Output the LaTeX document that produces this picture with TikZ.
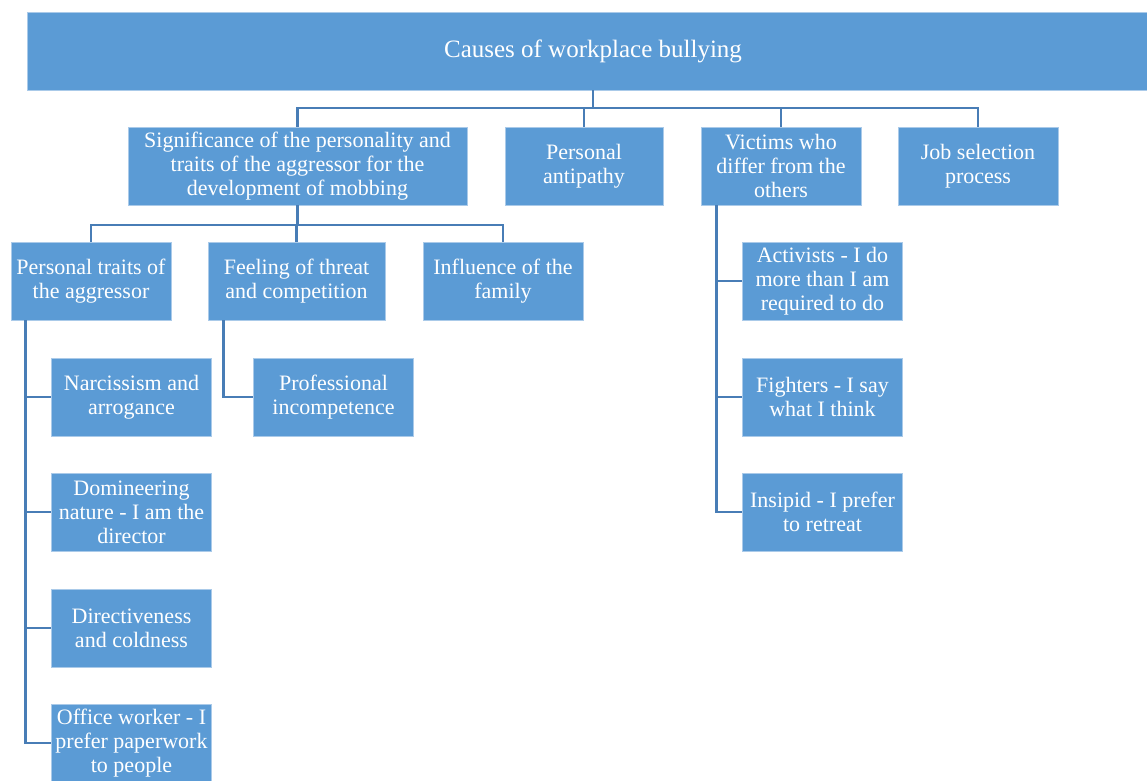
\documentclass[tikz,border=0pt]{standalone}
\usepackage{fontspec}
\setmainfont{Liberation Serif}
\usepackage{tikz}
\definecolor{boxblue}{RGB}{91,155,213}
\definecolor{boxedge}{RGB}{170,202,233}
\definecolor{linkblue}{RGB}{72,125,182}

\begin{document}
\begin{tikzpicture}[x=1pt,y=-1pt,
    box/.style={rectangle,draw=boxedge,line width=0.8pt,fill=boxblue,text=white,align=center,
                inner sep=0pt,minimum width=160pt,minimum height=78pt,font=\fontsize{22}{24}\selectfont},
    link/.style={draw=linkblue,line width=2.9pt}]
                      \useasboundingbox (0,0) rectangle (1147,780);

                      % top level
                      \node (root) at (593,51) [box,minimum width=1132pt,font=\fontsize{25}{28}\selectfont] {Causes of workplace bullying};

                      \node (sig) at (297.5,166) [box,minimum width=339pt] {Significance of the personality and\\traits of the aggressor for the\\development of mobbing};
                      \node (anti) at (584,166) [box,minimum width=158pt] {Personal\\antipathy};
                      \node (vic) at (781,166) [box] {Victims who\\differ from the\\others};
                      \node (job) at (978,166) [box] {Job selection\\process};

                      % aggressor
                      \node (ptr) at (91,281) [box] {Personal traits of\\the aggressor};
                      \node (thr) at (296.5,281) [box,minimum width=177pt] {Feeling of threat\\and competition};
                      \node (fam) at (503,281) [box] {Influence of the\\family};

                      \node (nar) at (131.5,397) [box] {Narcissism and\\arrogance};
                      \node (dom) at (131.5,512) [box] {Domineering\\nature - I am the\\director};
                      \node (dir) at (131.5,628) [box] {Directiveness\\and coldness};
                      \node (off) at (131.5,743) [box] {Office worker - I\\prefer paperwork\\to people};

                      \node (inc) at (333.5,397) [box] {Professional\\incompetence};

                      % victims
                      \node (act) at (822.5,281) [box] {Activists - I do\\more than I am\\required to do};
                      \node (fig) at (822.5,397) [box] {Fighters - I say\\what I think};
                      \node (ins) at (822.5,512) [box] {Insipid - I prefer\\to retreat};

                      % connectors
                      \coordinate (hub) at (593,108);
                      \draw[link] (root.south) -- (hub);
                      \foreach \n in {sig,anti,vic,job}
                        \draw[link] (hub) -| (\n.north);

                      \coordinate (hub2) at (297.5,225);
                      \draw[link] (sig.south) -- (hub2);
                      \foreach \n in {ptr,thr,fam}
                        \draw[link] (hub2) -| (\n.north);

                      \foreach \n in {nar,dom,dir,off}
                        \draw[link] ([xshift=15pt]ptr.south west) |- (\n.west);
                      \draw[link] ([xshift=16pt]thr.south west) |- (inc.west);
                      \foreach \n in {act,fig,ins}
                        \draw[link] ([xshift=16pt]vic.south west) |- (\n.west);
                \end{tikzpicture}
\end{document}
